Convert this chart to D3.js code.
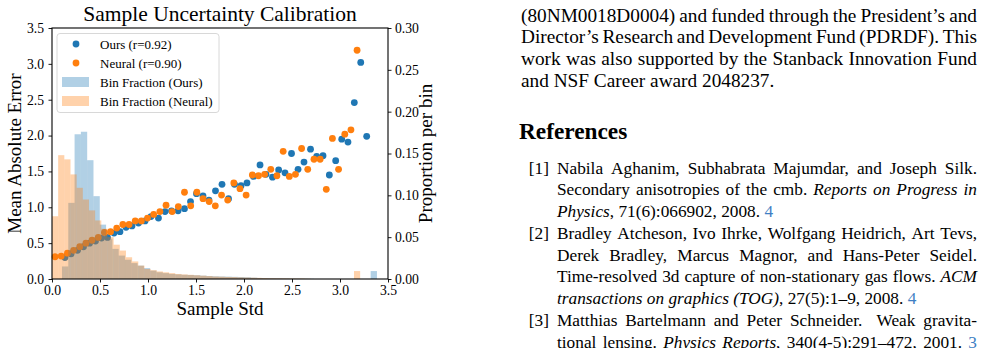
<!DOCTYPE html>
<html>
<head>
<meta charset="utf-8">
<script src="https://cdn.jsdelivr.net/npm/d3@7"></script>
<style>
  body { margin: 0; background: #fff; }
  svg text { font-family: "Liberation Serif", "Times New Roman", serif; }
</style>
</head>
<body>
<svg id="page" width="997" height="348"></svg>
<script>
// ---- chart data ----
var xTicks = [0, 0.5, 1.0, 1.5, 2.0, 2.5, 3.0, 3.5];
var yTicks = [0, 0.5, 1.0, 1.5, 2.0, 2.5, 3.0, 3.5];
var y2Ticks = [0, 0.05, 0.10, 0.15, 0.20, 0.25, 0.30];

// scatter: Ours
var oursStd = [0.135, 0.198, 0.266, 0.328, 0.391, 0.453, 0.516, 0.578, 0.646, 0.708,
  0.771, 0.833, 0.901, 0.969, 1.031, 1.109, 1.177, 1.245, 1.313, 1.380,
  1.443, 1.505, 1.573, 1.635, 1.703, 1.771, 1.839, 1.901, 1.969, 2.031,
  2.099, 2.167, 2.229, 2.297, 2.361, 2.427, 2.495, 2.563, 2.625, 2.693,
  2.757, 2.823, 2.889, 2.955, 3.018, 3.083, 3.149, 3.216, 3.278];
var oursMae = [0.30, 0.35, 0.40, 0.45, 0.50, 0.53, 0.57, 0.58, 0.64, 0.66,
  0.72, 0.74, 0.78, 0.81, 0.87, 0.85, 0.94, 0.95, 0.95, 0.98,
  1.08, 1.19, 1.16, 1.10, 1.23, 1.32, 1.12, 1.32, 1.30, 1.34,
  1.43, 1.59, 1.46, 1.42, 1.52, 1.48, 1.75, 1.53, 1.63, 1.81,
  1.71, 1.72, 1.45, 1.65, 1.95, 1.91, 2.46, 3.02, 1.99];

// scatter: Neural
var neuralStd = [0.032, 0.096, 0.161, 0.225, 0.289, 0.353, 0.417, 0.482, 0.546, 0.610,
  0.674, 0.738, 0.803, 0.867, 0.931, 0.995, 1.059, 1.124, 1.188, 1.252,
  1.316, 1.380, 1.445, 1.509, 1.573, 1.637, 1.701, 1.766, 1.830, 1.894,
  1.958, 2.022, 2.087, 2.151, 2.215, 2.279, 2.343, 2.408, 2.472, 2.536,
  2.600, 2.664, 2.729, 2.793, 2.857, 2.921, 2.985, 3.050, 3.114, 3.178];
var neuralMae = [0.31, 0.32, 0.36, 0.40, 0.45, 0.50, 0.54, 0.58, 0.65, 0.66,
  0.71, 0.76, 0.76, 0.81, 0.81, 0.85, 0.90, 0.94, 1.03, 0.94,
  1.01, 1.21, 1.02, 1.21, 1.12, 1.08, 1.02, 1.17, 1.10, 1.34,
  1.26, 1.17, 1.45, 1.44, 1.46, 1.53, 1.44, 1.78, 1.43, 1.46,
  1.82, 1.53, 1.67, 1.67, 1.25, 1.96, 1.53, 2.02, 2.08, 3.19];

// histograms (fraction per bin), 50 equal bins each
var oursBinRange = [0.104, 3.385];
var oursHist = [0.015, 0.091, 0.173, 0.176, 0.142, 0.099, 0.065, 0.048, 0.036, 0.028,
  0.023, 0.019, 0.016, 0.013, 0.010, 0.008, 0.007, 0.006, 0.0055, 0.005,
  0.0048, 0.0045, 0.004, 0.0035, 0.0032, 0.003, 0.0028, 0.0026, 0.0024, 0.0021,
  0.0016, 0.0011, 0.0009, 0.0008, 0.0007, 0.0006, 0.0005, 0.0004, 0.0003, 0.0002,
  0, 0, 0, 0, 0, 0, 0, 0, 0, 0.0095];
var neuralBinRange = [0, 3.21];
var neuralHist = [0.075, 0.148, 0.143, 0.125, 0.109, 0.095, 0.082, 0.070, 0.060, 0.050,
  0.041, 0.034, 0.026, 0.021, 0.016, 0.012, 0.0105, 0.009, 0.008, 0.007,
  0.006, 0.0055, 0.005, 0.0045, 0.004, 0.0035, 0.003, 0.0028, 0.0025, 0.0023,
  0.002, 0.0018, 0.0016, 0.0014, 0.0012, 0.001, 0.0009, 0.0008, 0.0007, 0.0006,
  0.0006, 0.0003, 0, 0, 0, 0, 0, 0, 0, 0.0095];

var legendLabels = ["Ours (r=0.92)", "Neural (r=0.90)", "Bin Fraction (Ours)", "Bin Fraction (Neural)"];

// ---- page text ----
var ackLines = [
  "(80NM0018D0004) and funded through the President\u2019s and",
  "Director\u2019s Research and Development Fund (PDRDF). This",
  "work was also supported by the Stanback Innovation Fund",
  "and NSF Career award 2048237."
];
var refEntries = [
  { label: "[1]", more: false, lines: [
    "Nabila Aghanim, Subhabrata Majumdar, and Joseph Silk.",
    "Secondary anisotropies of the cmb. *Reports on Progress in*",
    "*Physics*, 71(6):066902, 2008. {4}"] },
  { label: "[2]", more: false, lines: [
    "Bradley Atcheson, Ivo Ihrke, Wolfgang Heidrich, Art Tevs,",
    "Derek Bradley, Marcus Magnor, and Hans-Peter Seidel.",
    "Time-resolved 3d capture of non-stationary gas flows. *ACM*",
    "*transactions on graphics (TOG)*, 27(5):1\u20139, 2008. {4}"] },
  { label: "[3]", more: true, lines: [
    "Matthias Bartelmann and Peter Schneider.  Weak gravita-",
    "tional lensing. *Physics Reports*, 340(4-5):291\u2013472, 2001. {3}"] }
];

var blue = "#1f77b4", orange = "#ff7f0e";
var svg = d3.select("#page");

// ---- scales ----
var x = d3.scaleLinear().domain([0, 3.5]).range([52, 388]);
var y = d3.scaleLinear().domain([0, 3.5]).range([279, 28]);
var y2 = d3.scaleLinear().domain([0, 0.30]).range([279, 28]);

var chart = svg.append("g");

// scatter (primary axis)
function dots(stds, maes, color) {
  chart.append("g").selectAll("circle")
    .data(d3.zip(stds, maes))
    .enter().append("circle")
    .attr("cx", d => x(d[0]))
    .attr("cy", d => y(d[1]))
    .attr("r", 3.4)
    .attr("fill", color);
}
dots(oursStd, oursMae, blue);
dots(neuralStd, neuralMae, orange);

// histograms (twin axis, drawn on top)
function hist(vals, range, color) {
  var w = (range[1] - range[0]) / vals.length;
  chart.append("g").selectAll("rect")
    .data(vals)
    .enter().append("rect")
    .attr("x", (d, i) => x(range[0] + i * w))
    .attr("width", (d, i) => x(range[0] + (i + 1) * w) - x(range[0] + i * w))
    .attr("y", d => y2(d))
    .attr("height", d => y2(0) - y2(d))
    .attr("fill", color)
    .attr("fill-opacity", 0.35);
}
hist(oursHist, oursBinRange, blue);
hist(neuralHist, neuralBinRange, orange);

// axes
function styleAxis(g) {
  g.select(".domain").remove();
  g.selectAll("line").attr("stroke", "#000").attr("stroke-width", 0.9);
  g.selectAll("text").attr("fill", "#000").style("font-size", "13.7px")
    .style("font-family", '"Liberation Serif", serif');
}
chart.append("g").attr("transform", "translate(0,279)")
  .call(d3.axisBottom(x).tickValues(xTicks).tickFormat(d3.format(".1f")).tickSize(3.5).tickPadding(3))
  .call(styleAxis);
chart.append("g").attr("transform", "translate(52,0)")
  .call(d3.axisLeft(y).tickValues(yTicks).tickFormat(d3.format(".1f")).tickSize(3.5).tickPadding(4.5))
  .call(styleAxis);
chart.append("g").attr("transform", "translate(388,0)")
  .call(d3.axisRight(y2).tickValues(y2Ticks).tickFormat(d3.format(".2f")).tickSize(3.5).tickPadding(3.5))
  .call(styleAxis);

chart.append("rect")
  .attr("x", 52).attr("y", 28).attr("width", 336).attr("height", 251)
  .attr("fill", "none").attr("stroke", "#000").attr("stroke-width", 1.1);

// titles
chart.append("text").attr("x", 220).attr("y", 21).attr("text-anchor", "middle")
  .style("font-size", "21.5px").text("Sample Uncertainty Calibration");
chart.append("text").attr("x", 220).attr("y", 315).attr("text-anchor", "middle")
  .style("font-size", "19px").text("Sample Std");
chart.append("text").attr("transform", "translate(20.5,153.5) rotate(-90)").attr("text-anchor", "middle")
  .style("font-size", "19px").text("Mean Absolute Error");
chart.append("text").attr("transform", "translate(432,153.5) rotate(-90)").attr("text-anchor", "middle")
  .style("font-size", "19px").text("Proportion per bin");

// legend
var leg = chart.append("g");
leg.append("rect").attr("x", 57).attr("y", 33.5).attr("width", 162).attr("height", 79)
  .attr("rx", 3).attr("fill", "#fff").attr("fill-opacity", 0.8)
  .attr("stroke", "#d4d4d4").attr("stroke-width", 0.9);
var rowY = [44, 63, 82, 101];
leg.append("circle").attr("cx", 76).attr("cy", rowY[0]).attr("r", 3.4).attr("fill", blue);
leg.append("circle").attr("cx", 76).attr("cy", rowY[1]).attr("r", 3.4).attr("fill", orange);
leg.append("rect").attr("x", 62).attr("y", rowY[2] - 5).attr("width", 27).attr("height", 10)
  .attr("fill", blue).attr("fill-opacity", 0.35);
leg.append("rect").attr("x", 62).attr("y", rowY[3] - 5).attr("width", 27).attr("height", 10)
  .attr("fill", orange).attr("fill-opacity", 0.35);
leg.selectAll("text.lab").data(legendLabels).enter().append("text")
  .attr("class", "lab")
  .attr("x", 100).attr("y", (d, i) => rowY[i] + 4.5)
  .style("font-size", "13px").text(d => d);

// ---- right column text ----
var linkColor = "#3f7fc4";
var colLeft = 521, colRight = 977, refIndent = 557, step = 21.75;
var ackSize = 19.3, refSize = 17.3;

// words: array of { parts: [{t, s}], wide } ; *..* italic, {..} link, two spaces = sentence gap
function parseLine(str) {
  var words = [], cur = [], buf = "", st = "n", spaces = 0;
  function flush() { if (buf) { cur.push({ t: buf, s: st }); buf = ""; } }
  function endWord() { flush(); if (cur.length) { words.push({ parts: cur, wide: spaces > 1 }); cur = []; spaces = 0; } }
  for (var k = 0; k < str.length; k++) {
    var c = str[k];
    if (c === "*") { flush(); st = st === "i" ? "n" : "i"; }
    else if (c === "{") { flush(); st = "l"; }
    else if (c === "}") { flush(); st = "n"; }
    else if (c === " ") { endWord(); spaces++; }
    else buf += c;
  }
  endWord();
  return words;
}

function drawWord(parts, px, py, fs) {
  var t = svg.append("text").attr("x", px).attr("y", py).style("font-size", fs + "px").attr("fill", "#000");
  parts.forEach(function (p) {
    var ts = t.append("tspan").text(p.t);
    if (p.s === "i") ts.style("font-style", "italic");
    if (p.s === "l") ts.attr("fill", linkColor);
  });
  return t;
}

function drawLine(str, x0, x1, py, fs, justify) {
  var words = parseLine(str);
  var nodes = words.map(w => drawWord(w.parts, x0, py, fs));
  var widths = nodes.map(n => n.node().getComputedTextLength());
  var total = d3.sum(widths);
  var weights = words.map((w, i) => i === 0 ? 0 : (w.wide ? 1.8 : 1));
  var gap = fs * 0.25;
  if (justify && words.length > 1) gap = (x1 - x0 - total) / d3.sum(weights);
  var cx = x0;
  nodes.forEach(function (n, i) { cx += gap * weights[i]; n.attr("x", cx); cx += widths[i]; });
}

ackLines.forEach(function (l, i) {
  drawLine(l, colLeft, colRight, 21.5 + i * step, ackSize, i < ackLines.length - 1);
});

svg.append("text").attr("x", 519).attr("y", 138.5)
  .style("font-size", "23.3px").style("font-weight", "bold").text("References");

var row = 0;
refEntries.forEach(function (e) {
  svg.append("text").attr("x", refIndent - 8).attr("y", 173.5 + row * step)
    .attr("text-anchor", "end").style("font-size", refSize + "px").text(e.label);
  e.lines.forEach(function (l, i) {
    var just = e.more || i < e.lines.length - 1;
    drawLine(l, refIndent, colRight, 173.5 + row * step, refSize, just);
    row++;
  });
});
</script>
</body>
</html>
